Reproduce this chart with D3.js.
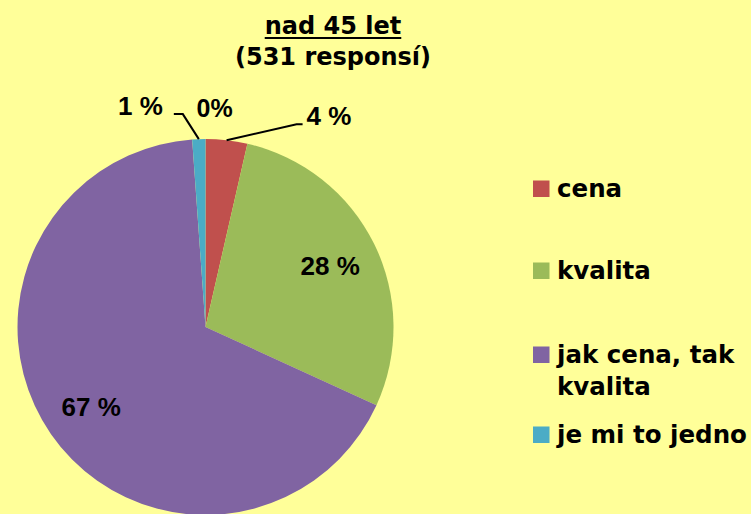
<!DOCTYPE html>
<html><head><meta charset="utf-8">
<script src="https://cdn.jsdelivr.net/npm/d3@7"></script>
<style>
html,body{margin:0;padding:0;background:#FFFF99;}
svg{display:block;}
</style></head>
<body>
<svg id="c" width="751" height="514"></svg>
<script>
const categories = ["cena", "kvalita", "jak cena, tak kvalita", "je mi to jedno", ""];
const counts = [19, 150, 356, 6, 0];
const labels = ["4 %", "28 %", "67 %", "1 %", "0%"];
const legendLines = [["cena"], ["kvalita"], ["jak cena, tak", "kvalita"], ["je mi to jedno"]];
const colors = ["#C0504D", "#9BBB59", "#8064A2", "#4BACC6", "#F79646"];
const titleLines = ["nad 45 let", "(531 responsí)"];

const svg = d3.select("#c");
svg.append("rect").attr("width", 751).attr("height", 514).attr("fill", "#FFFF99");

const cx = 205.5, cy = 327, R = 188;
const g = svg.append("g").attr("transform", `translate(${cx},${cy})`);
const pie = d3.pie().sort(null).value(d => d).startAngle(0).endAngle(2 * Math.PI);
const arcs = pie(counts);
const arc = d3.arc().innerRadius(0).outerRadius(R);
g.selectAll("path.s").data(arcs).join("path").attr("class", "s")
  .attr("d", arc).attr("fill", (d, i) => colors[i]);

const labelFont = "'Liberation Sans', Arial, sans-serif";
const mid = d => (d.startAngle + d.endAngle) / 2;
const pt = (a, r) => [r * Math.sin(a), -r * Math.cos(a)];

// inside labels
[1, 2].forEach(i => {
  const [x, y] = pt(mid(arcs[i]), R * 0.74);
  g.append("text").attr("x", x).attr("y", y).attr("dy", "0.36em")
    .attr("text-anchor", "middle").attr("font-family", labelFont)
    .attr("font-weight", "bold").attr("font-size", 26).attr("fill", "#000")
    .text(labels[i]);
});

// cena
{
  const [x0, y0] = pt(mid(arcs[0]), R);
  g.append("path").attr("d", `M${x0},${y0}L${x0 + 70},${y0 - 16}L${x0 + 76},${y0 - 16}`)
    .attr("fill", "none").attr("stroke", "#000").attr("stroke-width", 2);
  g.append("text").attr("x", x0 + 80).attr("y", y0 - 15)
    .attr("font-family", labelFont).attr("font-weight", "bold").attr("font-size", 26)
    .text(labels[0]);
}
// je mi to jedno
{
  const [x0, y0] = pt(mid(arcs[3]), R);
  g.append("path").attr("d", `M${x0},${y0}L${x0 - 16},${y0 - 25}L${x0 - 25},${y0 - 25}`)
    .attr("fill", "none").attr("stroke", "#000").attr("stroke-width", 2);
  g.append("text").attr("x", x0 - 36).attr("y", y0 - 24).attr("text-anchor", "end")
    .attr("font-family", labelFont).attr("font-weight", "bold").attr("font-size", 26)
    .text(labels[3]);
}
// zero slice
{
  const [x0, y0] = pt(arcs[4].startAngle, R);
  g.append("text").attr("x", x0 - 9).attr("y", y0 - 22)
    .attr("font-family", labelFont).attr("font-weight", "bold").attr("font-size", 25)
    .text(labels[4]);
}

// title
const tf = "'DejaVu Sans', Verdana, sans-serif";
const t1 = svg.append("text").attr("x", 333).attr("y", 34).attr("text-anchor", "middle")
  .attr("font-family", tf).attr("font-weight", "bold").attr("font-size", 24)
  .text(titleLines[0]);
const bb = t1.node().getBBox();
svg.append("line").attr("x1", bb.x).attr("x2", bb.x + bb.width).attr("y1", 38).attr("y2", 38)
  .attr("stroke", "#000").attr("stroke-width", 2);
svg.append("text").attr("x", 333).attr("y", 65).attr("text-anchor", "middle")
  .attr("font-family", tf).attr("font-weight", "bold").attr("font-size", 24)
  .text(titleLines[1]);

// legend
const legY = [197, 279, 363, 443];
const lg = svg.append("g");
legendLines.forEach((lines, i) => {
  lg.append("rect").attr("x", 533).attr("y", legY[i] - 16.5).attr("width", 16.5).attr("height", 16.5)
    .attr("fill", colors[i]);
  const t = lg.append("text").attr("x", 557).attr("y", legY[i])
    .attr("font-family", tf).attr("font-weight", "bold").attr("font-size", 24.5).attr("fill", "#000");
  lines.forEach((l, j) => t.append("tspan").attr("x", 557).attr("dy", j === 0 ? 0 : 32).text(l));
});
</script>
</body></html>
